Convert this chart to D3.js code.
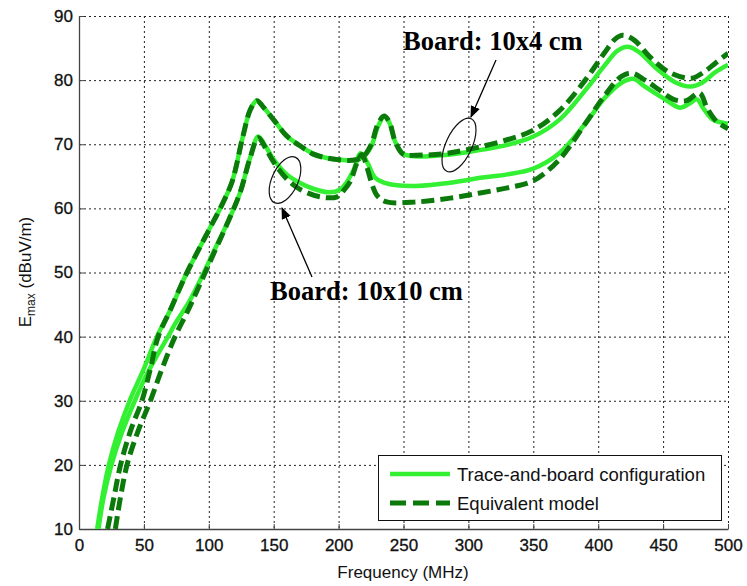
<!DOCTYPE html>
<html>
<head>
<meta charset="utf-8">
<script src="https://cdn.jsdelivr.net/npm/d3@7"></script>
<style>
  body { margin: 0; background: #fff; }
</style>
</head>
<body>
<div id="chart"></div>
<script>
// frequency (MHz) / E max (dBuV/m)
var trace4 = [[14,10],[18,15],[23,20],[30,25],[39,30],[50,35],[60,40],[70,44],[82,49.5],[92,53.5],[100,56.6],[110,60.5],[118,64.2],[126,71],[132,75.4],[137,76.8],[142,75.8],[150,73.8],[160,71.3],[170,69.8],[180,68.6],[190,67.9],[200,67.6],[210,67.5],[218,67.9],[225,69.6],[230,72.6],[235,74.3],[239,73.4],[244,70.2],[250,68.5],[260,68.1],[280,68.3],[300,68.8],[330,69.9],[350,71.2],[370,73.8],[390,78.4],[405,82.3],[415,84.6],[423,85.2],[432,84.3],[445,81.8],[460,79.6],[471,79],[480,79.6],[490,81.2],[500,82.4]];
var model4 = [[22,10],[27,15],[32,20],[40,25.5],[48.5,30],[55,35],[61,40],[70,44],[82,49.5],[92,53.5],[100,56.6],[110,60.5],[118,64.2],[126,71],[132,75.4],[137,76.8],[142,75.8],[150,73.8],[160,71.3],[170,69.8],[180,68.5],[190,67.9],[200,67.6],[210,67.5],[218,67.9],[225,69.9],[230,73],[235,74.4],[239,73.5],[244,70.2],[250,68.4],[260,68.3],[280,68.5],[300,69.2],[330,70.7],[350,72.2],[370,75.2],[390,80],[405,84.3],[413,86.4],[419,87],[428,86.2],[440,83.6],[455,81.2],[472,80.3],[481,81.2],[490,82.6],[500,84.2]];
var trace10 = [[15,10],[19,15],[25,20],[33,25],[43,30],[52,34],[60,37],[70,40.5],[74,42],[85,45.5],[95,49.5],[105,53.8],[115,58],[124,62.4],[132,68],[138,71.2],[144,69.6],[150,67.6],[160,65.3],[170,64],[180,63.1],[193,62.5],[201,62.9],[206,64],[212,66.2],[217,68.6],[222,67.2],[228,64.8],[234,64.1],[245,63.6],[260,63.5],[286,64],[311,64.8],[330,65.3],[350,66.2],[370,68.6],[390,73.2],[405,77.2],[418,79.6],[427,80.2],[436,79],[450,77.2],[463,75.7],[470,76.3],[476,77],[481,75.6],[488,73.9],[500,73.2]];
var model10 = [[28,10],[32,15],[37,20],[45,25],[55,30],[64,35],[74,40],[85,44.5],[95,49],[105,53.5],[115,58],[124,62.4],[132,68],[138,71],[144,69.3],[150,67.2],[160,64.6],[170,63],[185.7,61.8],[198.8,61.8],[204,62.8],[209,64.2],[214,67],[218,68.4],[222,66.3],[226,63.6],[230,61.9],[237,61],[260,61],[286,61.6],[309,62.4],[330,63.2],[350,64.3],[370,67.6],[390,73.2],[405,77.6],[418,80.6],[426,81.1],[436,80],[447,78.5],[458,77],[468,76.8],[478,78],[484,75.6],[491,73.6],[500,72.4]];

var xTicks = [0, 50, 100, 150, 200, 250, 300, 350, 400, 450, 500];
var yTicks = [10, 20, 30, 40, 50, 60, 70, 80, 90];
var legendNames = ["Trace-and-board configuration", "Equivalent model"];

var width = 747, height = 586,
    mLeft = 79, mTop = 16, plotW = 649, plotH = 513;
var sans = "Arial, 'Liberation Sans', sans-serif",
    serif = "'Liberation Serif', 'Times New Roman', serif";

var svg = d3.select("#chart").append("svg").attr("width", width).attr("height", height)
    .style("font-family", sans);

var x = d3.scaleLinear().domain([0, 500]).range([mLeft, mLeft + plotW]);
var y = d3.scaleLinear().domain([10, 90]).range([mTop + plotH, mTop]);

// dotted grid
var grid = svg.append("g").attr("stroke", "#222").attr("stroke-width", 1).attr("stroke-dasharray", "2,3");
grid.selectAll(".gx").data(xTicks.slice(1)).enter().append("line")
    .attr("x1", function(d) { return x(d) + 0.5; }).attr("x2", function(d) { return x(d) + 0.5; })
    .attr("y1", mTop).attr("y2", mTop + plotH);
grid.selectAll(".gy").data(yTicks.slice(1)).enter().append("line")
    .attr("y1", function(d) { return y(d) + 0.5; }).attr("y2", function(d) { return y(d) + 0.5; })
    .attr("x1", mLeft).attr("x2", mLeft + plotW);

// axes, ticks point inwards
var xAxis = svg.append("g").attr("transform", "translate(0," + (mTop + plotH) + ")")
    .call(d3.axisBottom(x).tickValues(xTicks).tickSizeInner(-5).tickSizeOuter(0).tickPadding(10));
var yAxis = svg.append("g").attr("transform", "translate(" + mLeft + ",0)")
    .call(d3.axisLeft(y).tickValues(yTicks).tickSizeInner(-5).tickSizeOuter(0).tickPadding(6));
[xAxis, yAxis].forEach(function(a) {
    a.select(".domain").attr("stroke", "#444").attr("stroke-width", 1.3);
    a.selectAll(".tick line").attr("stroke", "#444");
    a.selectAll("text").attr("font-size", 17).attr("fill", "#111").attr("font-family", sans)
        .attr("stroke", "#111").attr("stroke-width", 0.3);
});

var line = d3.line()
    .x(function(d) { return x(d[0]); })
    .y(function(d) { return y(d[1]); })
    .curve(d3.curveCatmullRom.alpha(0.5));

var solidColor = "#33f033", dashColor = "#0b7a0b";
svg.append("clipPath").attr("id", "clip").append("rect")
    .attr("x", mLeft).attr("y", mTop - 10).attr("width", plotW).attr("height", plotH + 10);
var curves = svg.append("g").attr("clip-path", "url(#clip)");

[trace4, trace10].forEach(function(s) {
    curves.append("path").datum(s).attr("d", line).attr("fill", "none")
        .attr("stroke", solidColor).attr("stroke-width", 4.5);
});
[model4, model10].forEach(function(s) {
    curves.append("path").datum(s).attr("d", line).attr("fill", "none")
        .attr("stroke", dashColor).attr("stroke-width", 5).attr("stroke-dasharray", "13,6");
});

// annotations
svg.append("defs").append("marker").attr("id", "arr").attr("viewBox", "0 0 10 10")
    .attr("refX", 9).attr("refY", 5).attr("markerWidth", 12).attr("markerHeight", 12)
    .attr("markerUnits", "userSpaceOnUse").attr("orient", "auto")
    .append("path").attr("d", "M0,1 L10,5 L0,9 Z").attr("fill", "#000");
var ann = svg.append("g");

ann.append("text").attr("x", 403).attr("y", 50).text("Board: 10x4 cm")
    .attr("font-family", serif).attr("font-weight", "bold").attr("font-size", 26.5);
ann.append("text").attr("x", 270).attr("y", 300).text("Board: 10x10 cm")
    .attr("font-family", serif).attr("font-weight", "bold").attr("font-size", 26.5);
ann.append("line").attr("x1", 496).attr("y1", 60).attr("x2", 471).attr("y2", 117)
    .attr("stroke", "#000").attr("stroke-width", 1.3).attr("marker-end", "url(#arr)");
ann.append("line").attr("x1", 312).attr("y1", 277).attr("x2", 282).attr("y2", 208)
    .attr("stroke", "#000").attr("stroke-width", 1.3).attr("marker-end", "url(#arr)");
ann.append("ellipse").attr("cx", 459).attr("cy", 145).attr("rx", 13).attr("ry", 29)
    .attr("transform", "rotate(25,459,145)").attr("fill", "none").attr("stroke", "#111").attr("stroke-width", 1.2);
ann.append("ellipse").attr("cx", 285).attr("cy", 180).attr("rx", 13).attr("ry", 25)
    .attr("transform", "rotate(25,285,180)").attr("fill", "none").attr("stroke", "#111").attr("stroke-width", 1.2);

// axis titles
svg.append("text").attr("x", 403).attr("y", 578).attr("text-anchor", "middle")
    .attr("font-size", 17).attr("fill", "#111").text("Frequency (MHz)");
var yl = svg.append("text").attr("transform", "translate(31,272) rotate(-90)")
    .attr("text-anchor", "middle").attr("font-size", 17).attr("fill", "#111");
yl.append("tspan").text("E");
yl.append("tspan").attr("font-size", 12).attr("dy", 4).text("max");
yl.append("tspan").attr("dy", -4).text(" (dBuV/m)");

// legend
var lg = svg.append("g");
lg.append("rect").attr("x", 378.5).attr("y", 455.5).attr("width", 343).attr("height", 65)
    .attr("fill", "#fff").attr("stroke", "#111").attr("stroke-width", 1);
legendNames.forEach(function(name, i) {
    var ly = 474 + i * 29;
    lg.append("line").attr("x1", 390).attr("x2", 450).attr("y1", ly).attr("y2", ly)
        .attr("stroke", i === 0 ? solidColor : dashColor).attr("stroke-width", i === 0 ? 4.5 : 5)
        .attr("stroke-dasharray", i === 0 ? null : "16,7");
    lg.append("text").attr("x", 457).attr("y", ly + 7).attr("font-size", 18.5).attr("fill", "#111").text(name);
});
</script>
</body>
</html>
